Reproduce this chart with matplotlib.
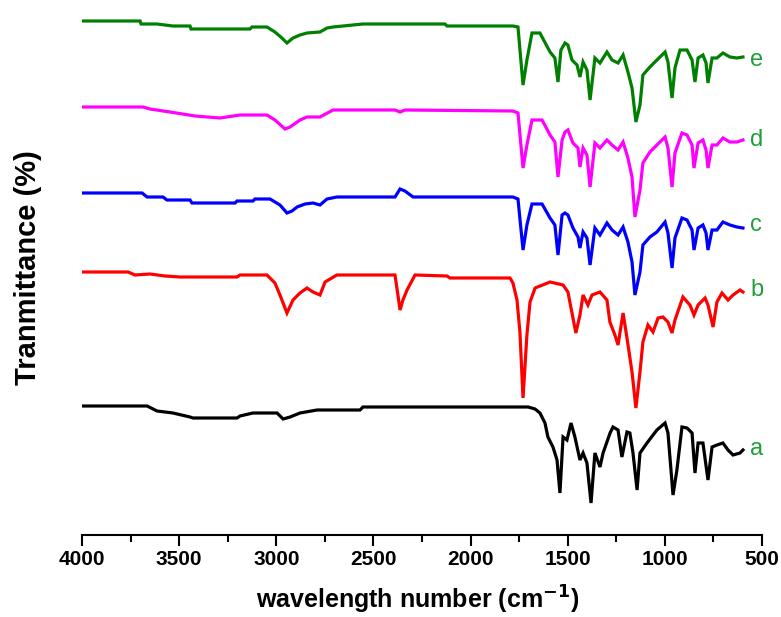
import matplotlib
matplotlib.use("Agg")
import matplotlib.pyplot as plt

# ---- data (wavenumber in cm^-1, transmittance in arbitrary offset units) ----
e_wn = [4000, 3701, 3696, 3614, 3532, 3444, 3439, 3135, 3125, 3048, 3007, 2971, 2945, 2914, 2878,
        2842, 2775, 2739, 2708, 2554, 2132, 2121, 1782, 1756, 1730, 1710, 1684, 1643, 1591, 1566,
        1550, 1535, 1514, 1499, 1478, 1452, 1437, 1421, 1401, 1385, 1360, 1334, 1298, 1272, 1241,
        1215, 1190, 1169, 1149, 1128, 1113, 1077, 1041, 999, 984, 963, 948, 922, 886, 860, 845,
        829, 804, 788, 778, 757, 732, 701, 665, 629, 598]
e_t = [514, 514, 511, 511, 509, 509, 506, 506, 508, 508, 503, 497, 492, 497, 500,
       502, 503, 507, 508, 511, 511, 509, 509, 508, 450, 475, 502, 502, 483, 477,
       453, 485, 492, 490, 475, 470, 458, 473, 465, 435, 477, 472, 483, 475, 472,
       480, 463, 447, 413, 430, 460, 468, 475, 483, 473, 437, 467, 485, 485, 475, 453,
       477, 480, 472, 452, 477, 477, 482, 478, 477, 478]

d_wn = [4000, 3686, 3650, 3547, 3418, 3290, 3187, 3048, 3007, 2955, 2929, 2878, 2842, 2775, 2708,
        2389, 2363, 2338, 1782, 1756, 1730, 1710, 1684, 1632, 1591, 1566, 1550, 1529, 1514, 1499,
        1473, 1447, 1437, 1421, 1401, 1385, 1360, 1334, 1298, 1272, 1241, 1215, 1190, 1169, 1154,
        1128, 1113, 1077, 1041, 999, 984, 963, 948, 912, 886, 860, 850, 829, 804, 788, 778,
        757, 732, 701, 665, 629, 598]
d_t = [428, 428, 426, 423, 419, 417, 420, 420, 415, 406, 408, 415, 418, 418, 425,
       425, 423, 425, 424, 422, 367, 390, 415, 415, 400, 393, 358, 395, 403, 405,
       392, 387, 368, 387, 380, 348, 392, 387, 395, 390, 385, 393, 377, 358, 318,
       345, 372, 383, 390, 398, 387, 348, 382, 402, 400, 390, 367, 392, 395, 385, 367,
       390, 390, 397, 393, 393, 395]

c_wn = [4000, 3691, 3665, 3583, 3563, 3444, 3434, 3212, 3202, 3120, 3110, 3032, 2981, 2945, 2919,
        2893, 2852, 2811, 2775, 2739, 2688, 2389, 2363, 2338, 2296, 1782, 1756, 1730, 1710, 1684,
        1632, 1591, 1566, 1550, 1529, 1514, 1499, 1473, 1447, 1437, 1421, 1401, 1385, 1360, 1334,
        1298, 1272, 1241, 1215, 1190, 1169, 1154, 1128, 1113, 1077, 1041, 999, 984, 963, 948,
        912, 886, 860, 850, 829, 804, 788, 778, 757, 732, 701, 665, 629, 598]
c_t = [342, 342, 338, 338, 335, 335, 332, 332, 334, 334, 336, 336, 330, 322, 324,
       328, 331, 332, 330, 336, 338, 338, 346, 344, 338, 338, 336, 285, 310, 331,
       331, 317, 310, 280, 320, 322, 320, 307, 298, 287, 303, 297, 270, 307, 300,
       312, 305, 300, 308, 293, 273, 240, 263, 290, 298, 303, 313, 302, 267, 297,
       317, 315, 305, 285, 307, 310, 302, 285, 305, 305, 313, 310, 308, 307]

b_wn = [4000, 3763, 3727, 3650, 3573, 3496, 3202, 3187, 3048, 3007, 2981, 2945, 2914, 2878, 2842,
        2811, 2775, 2749, 2688, 2389, 2374, 2363, 2348, 2327, 2286, 2121, 2106, 1797, 1782, 1761,
        1746, 1730, 1710, 1694, 1668, 1591, 1524, 1499, 1478, 1458, 1437, 1421, 1396, 1375, 1334,
        1298, 1283, 1257, 1241, 1215, 1195, 1169, 1149, 1128, 1113, 1087, 1061, 1035, 1010, 984,
        963, 948, 907, 871, 850, 829, 793, 778, 752, 732, 706, 675, 649, 613, 598]
b_t = [263, 263, 260, 261, 259, 258, 258, 260, 260, 252, 240, 222, 235, 242, 247,
       243, 240, 253, 260, 260, 240, 225, 235, 245, 260, 259, 257, 257, 252, 235,
       203, 137, 200, 233, 247, 253, 250, 243, 222, 202, 220, 240, 230, 240, 243,
       235, 213, 200, 190, 222, 197, 163, 127, 163, 193, 210, 203, 217, 218, 213,
       202, 215, 238, 230, 220, 230, 237, 230, 208, 233, 242, 235, 240, 245, 243]

a_wn = [4000, 3665, 3614, 3532, 3444, 3429, 3202, 3187, 3120, 2996, 2965, 2929, 2878, 2790, 2569,
        2554, 1704, 1668, 1643, 1617, 1602, 1576, 1555, 1540, 1524, 1504, 1483, 1463, 1437, 1421,
        1401, 1380, 1360, 1334, 1318, 1282, 1267, 1241, 1221, 1195, 1180, 1164, 1143, 1128, 1092,
        1041, 999, 984, 958, 938, 912, 886, 860, 845, 829, 804, 778, 757, 732, 701, 675,
        649, 613, 598]
a_t = [129, 129, 124, 122, 118, 117, 117, 119, 122, 122, 116, 118, 122, 125, 125,
       128, 128, 126, 122, 112, 98, 88, 75, 42, 98, 95, 112, 98, 75, 82,
       72, 32, 82, 68, 82, 102, 108, 105, 78, 103, 102, 82, 45, 82, 92,
       105, 112, 102, 40, 65, 108, 107, 102, 62, 92, 92, 55, 88, 90, 92, 85,
       80, 82, 85]

series = [
    ("a", a_wn, a_t, "black", 86),
    ("b", b_wn, b_t, "#ff0000", 245),
    ("c", c_wn, c_t, "#0000ff", 310),
    ("d", d_wn, d_t, "#ff00ff", 395),
    ("e", e_wn, e_t, "#008000", 475),
]

xticks = [4000, 3500, 3000, 2500, 2000, 1500, 1000, 500]

# ---- figure ----
fig = plt.figure(figsize=(7.81, 6.17), dpi=100)
ax = fig.add_axes([82 / 781, (617 - 535) / 617, 680 / 781, 525 / 617])

for name, wn, t, col, ly in series:
    ax.plot(wn, t, color=col, lw=2.3, solid_joinstyle="miter")
    ax.text(560, ly, name, color="#1f9e3a", fontsize=17, ha="left", va="center",
            clip_on=False, family=["Liberation Sans", "DejaVu Sans"])

ax.set_xlim(4000, 500)
ax.set_ylim(0, 525)
ax.set_xticks(xticks)
ax.set_xticks([3750, 3250, 2750, 2250, 1750, 1250, 750], minor=True)
ax.set_yticks([])
for s in ["left", "right", "top"]:
    ax.spines[s].set_visible(False)
ax.spines["bottom"].set_linewidth(1.5)
ax.tick_params(axis="x", which="major", direction="out", length=8, width=1.5, pad=3)
ax.tick_params(axis="x", which="minor", direction="out", length=5, width=1.5)
for lab in ax.get_xticklabels():
    lab.set_fontweight("bold")
    lab.set_fontsize(15)
    lab.set_family(["Liberation Sans", "DejaVu Sans"])

fig.text(418 / 781, 1 - 600 / 617, r"wavelength number (cm$^{\mathbf{-1}}$)",
         ha="center", va="center", fontsize=18, fontweight="bold",
         family=["Liberation Sans", "DejaVu Sans"])
fig.text(28 / 781, 1 - 268 / 617, "Tranmittance (%)", rotation=90,
         ha="center", va="center", fontsize=21, fontweight="bold",
         family=["Liberation Sans", "DejaVu Sans"])

fig.savefig("out.png", dpi=100)
